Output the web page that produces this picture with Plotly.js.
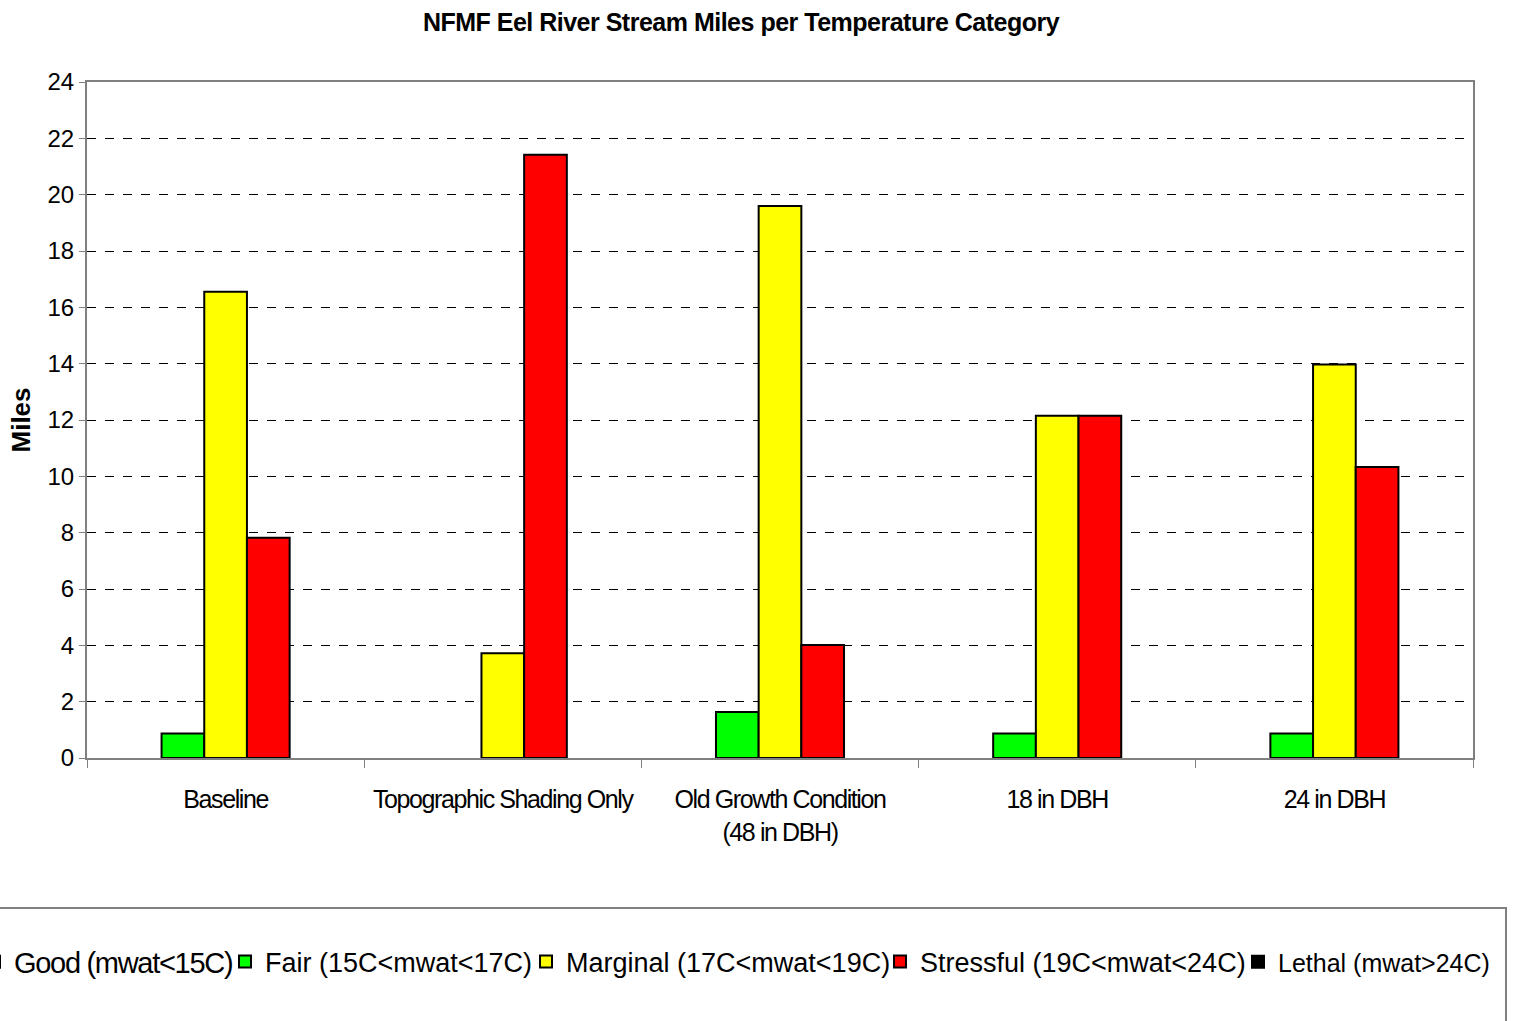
<!DOCTYPE html>
<html>
<head>
<meta charset="utf-8">
<script src="https://cdn.plot.ly/plotly-3.0.1.min.js"></script>
<style>
  html, body { margin: 0; padding: 0; background: #fff; }
  #chart { width: 1521px; height: 1021px; }
  .gtitle { letter-spacing: -0.5px; }
  .xtick text { letter-spacing: -1.4px; }
  .legendtext { letter-spacing: -1.3px; }
</style>
</head>
<body>
<div id="chart"></div>
<script>
const categories = ["Baseline", "Topographic Shading Only", "Old Growth Condition<br>(48 in DBH)", "18 in DBH", "24 in DBH"];
const seriesNames = ["Good (mwat<15C)", "Fair (15C<mwat<17C)", "Marginal (17C<mwat<19C)", "Stressful (19C<mwat<24C)", "Lethal (mwat>24C)"];
const good = [0, 0, 0, 0, 0];
const fair = [0.87, 0, 1.63, 0.87, 0.87];
const marginal = [16.55, 3.72, 19.6, 12.15, 13.97];
const stressful = [7.82, 21.42, 4.01, 12.15, 10.33];
const lethal = [0, 0, 0, 0, 0];
const colors = ["#33CCFF", "#00FF00", "#FFFF00", "#FF0000", "#000000"];
const allValues = [good, fair, marginal, stressful, lethal];

const font = "Arial, 'Liberation Sans', sans-serif";

const L = 87, R = 1473, T = 82, B = 758, W = 1521, H = 1021;
const pw = R - L, ph = B - T;
const px = v => (v - L) / pw;
const py = v => (B - v) / ph;

// left edge (px) of each legend entry's text; the symbol area is 40px before it
const legendTextStart = [14, 265, 566, 920, 1278];
const legendFontSize = [29, 27, 27, 27, 25];
const legendIds = ["legend", "legend2", "legend3", "legend4", "legend5"];

const traces = allValues.map((vals, i) => ({
  type: "bar",
  name: seriesNames[i],
  x: categories,
  y: vals.map(v => (v === 0 ? null : v)),
  marker: { color: colors[i], line: { color: "#000", width: 2 } },
  legend: legendIds[i],
  hoverinfo: "y+name"
}));

const layout = {
  width: W, height: H,
  margin: { l: L, r: W - R, t: T, b: H - B, autoexpand: false },
  paper_bgcolor: "#fff", plot_bgcolor: "#fff",
  font: { family: font, color: "#000" },
  barmode: "group",
  bargap: 0.23,
  bargroupgap: 0,
  title: {
    text: "<b>NFMF Eel River Stream Miles per Temperature Category</b>",
    font: { size: 25, family: font, color: "#000" },
    x: px(741), xanchor: "center", xref: "paper",
    y: 1 - 22 / H, yanchor: "middle", yref: "container"
  },
  xaxis: {
    type: "category",
    tickson: "boundaries",
    ticks: "outside", ticklen: 8, tickcolor: "#808080", tickwidth: 1,
    showline: true, linecolor: "#808080", linewidth: 2, mirror: true,
    showgrid: false,
    tickangle: 0,
    tickfont: { size: 25, family: font, color: "#000" },
    ticklabelstandoff: 18,
    automargin: false,
    fixedrange: true
  },
  yaxis: {
    range: [0, 24], dtick: 2, tick0: 0,
    ticks: "outside", ticklen: 6, tickcolor: "#808080",
    showline: true, linecolor: "#808080", linewidth: 2, mirror: true,
    showgrid: true, gridcolor: "#000", gridwidth: 1, griddash: "dash",
    zeroline: false,
    tickfont: { size: 24, family: font, color: "#000" },
    title: { text: "<b>Miles</b>", font: { size: 26, family: font, color: "#000" }, standoff: 9 },
    automargin: false,
    fixedrange: true
  },
  showlegend: true,
  shapes: [{
    type: "rect", xref: "paper", yref: "paper",
    x0: px(-5), x1: px(1506), y0: py(908), y1: py(1040),
    line: { color: "#808080", width: 2 }, fillcolor: "rgba(0,0,0,0)", layer: "below"
  }]
};

legendIds.forEach((id, i) => {
  layout[id] = {
    orientation: "h",
    x: px(legendTextStart[i] - 40), xanchor: "left", xref: "paper",
    y: py(962), yanchor: "middle", yref: "paper",
    font: { size: legendFontSize[i], family: font, color: "#000" },
    bgcolor: "rgba(0,0,0,0)", borderwidth: 0
  };
});

Plotly.newPlot("chart", traces, layout, { displayModeBar: false });
</script>
</body>
</html>
